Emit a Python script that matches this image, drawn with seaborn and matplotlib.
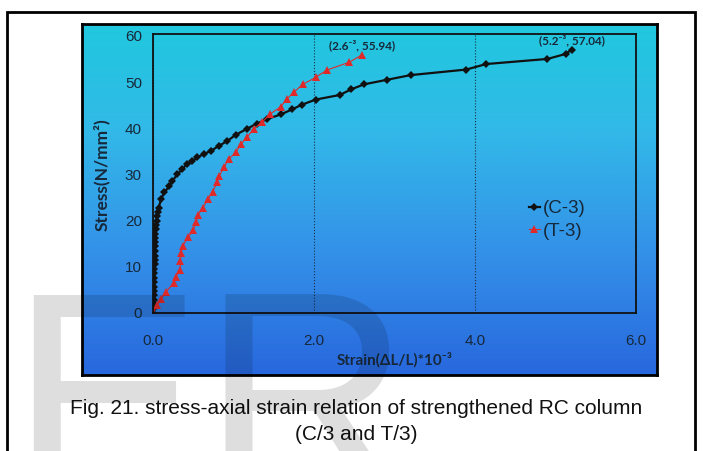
import matplotlib
matplotlib.use("Agg")
import matplotlib.pyplot as plt
from matplotlib.patches import Rectangle
import numpy as np
import pandas as pd
import seaborn as sns

# ─────────────────────────────────────────────
#  DATA
# ─────────────────────────────────────────────
c3_strain = [0, 0.005, 0.008, 0.01, 0.012, 0.013, 0.014, 0.015, 0.016, 0.017,
             0.018, 0.019, 0.02, 0.021, 0.022, 0.023, 0.025, 0.027, 0.03, 0.033,
             0.037, 0.045, 0.05, 0.06, 0.07, 0.1, 0.14, 0.2, 0.24, 0.3,
             0.36, 0.42, 0.48, 0.55, 0.63, 0.72, 0.82, 0.92, 1.03, 1.17,
             1.29, 1.42, 1.59, 1.73, 1.85, 2.02, 2.32, 2.46, 2.62, 2.91,
             3.2, 3.89, 4.14, 4.9, 5.13, 5.2]
c3_stress = [0, 0.9, 1.9, 2.8, 3.8, 4.8, 5.7, 6.7, 7.6, 8.6,
             9.6, 10.5, 11.5, 12.4, 13.4, 14.4, 15.3, 16.3, 17.2, 18.2,
             19.1, 20.0, 20.9, 21.9, 22.8, 24.6, 26.1, 27.4, 28.5, 30.0,
             31.1, 32.2, 32.8, 33.7, 34.4, 35.1, 36.2, 37.2, 38.6, 39.9,
             41.0, 42.0, 43.0, 44.1, 45.1, 46.2, 47.2, 48.4, 49.5, 50.5,
             51.5, 52.7, 53.9, 55.0, 56.1, 57.04]

t3_strain = [0, 0.05, 0.1, 0.16, 0.26, 0.28, 0.34, 0.34, 0.35, 0.37,
             0.44, 0.5, 0.54, 0.56, 0.62, 0.68, 0.74, 0.8, 0.82, 0.88,
             0.94, 1.03, 1.09, 1.17, 1.25, 1.36, 1.45, 1.59, 1.66, 1.75,
             1.86, 2.02, 2.16, 2.44, 2.6]
t3_stress = [0, 1.7, 3.0, 4.6, 6.5, 7.8, 9.3, 11.3, 13.0, 14.6,
             16.5, 18.0, 19.8, 21.3, 22.8, 24.6, 26.3, 28.3, 29.6, 31.5,
             33.3, 34.8, 36.5, 38.1, 39.8, 41.4, 43.0, 44.7, 46.3, 47.8,
             49.5, 51.0, 52.6, 54.3, 55.94]

series_labels = ["(C-3)", "(T-3)"]
x_ticks = [0.0, 2.0, 4.0, 6.0]
y_ticks = [0, 10, 20, 30, 40, 50, 60]
end_labels = ["(5.2\u207b\u00b3, 57.04)", "(2.6\u207b\u00b3, 55.94)"]
caption_lines = ["Fig. 21. stress-axial strain relation of strengthened RC column",
                 "(C/3 and T/3)"]
# ─────────────────────────────────────────────

W, H = 703, 451
INK = "#17283a"
RED = "#e02a2a"


def box(x0, y0, x1, y1):
    # pixel box (top-left origin) -> figure fraction [l, b, w, h]
    return [x0 / W, 1 - y1 / H, (x1 - x0) / W, (y1 - y0) / H]


fig = plt.figure(figsize=(W / 100, H / 100), dpi=100)

# ── scanned-picture background ──────────
bg = fig.add_axes(box(82, 24, 657, 375))
rows = np.linspace(0, 1, 200)
stops = [0, 0.3, 0.65, 1.0]
cols = np.array([[32, 200, 222], [50, 185, 232], [52, 145, 232], [40, 104, 222]]) / 255
grad = np.stack([np.interp(rows, stops, cols[:, k]) for k in range(3)], axis=-1)
bg.imshow(grad[:, None, :], aspect="auto", extent=[0, 1, 0, 1])
bg.set_xticks([])
bg.set_yticks([])
for s in bg.spines.values():
    s.set_linewidth(2)
    s.set_color("black")

# ── chart ───────────────────────────────
ax = fig.add_axes(box(153, 34, 636, 313))
ax.patch.set_alpha(0)

df_c = pd.DataFrame({"strain": c3_strain, "stress": c3_stress})
df_t = pd.DataFrame({"strain": t3_strain, "stress": t3_stress})

sns.lineplot(data=df_c, x="strain", y="stress", ax=ax, sort=False, estimator=None,
             color="#111111", lw=1.6, marker="D", markersize=4.5,
             markeredgewidth=0, label=series_labels[0])
sns.lineplot(data=df_t, x="strain", y="stress", ax=ax, sort=False, estimator=None,
             color=RED, lw=0.8, marker="^", markersize=5.5,
             markeredgewidth=0, label=series_labels[1])

ax.set_xlim(0, 6)
ax.set_ylim(0, 60.4)
ax.set_xticks(x_ticks)
ax.set_xticklabels([f"{v:.1f}" for v in x_ticks])
ax.set_yticks(y_ticks)
ax.tick_params(length=0, labelsize=11, labelcolor=INK)
ax.tick_params(axis="x", pad=15)
ax.tick_params(axis="y", pad=8)
for lab in ax.get_xticklabels() + ax.get_yticklabels():
    lab.set_family("Liberation Sans")

ax.grid(axis="x", ls=":", lw=0.8, color="#1a2f45")
ax.set_axisbelow(True)
for s in ax.spines.values():
    s.set_linewidth(1.3)
    s.set_color("#111111")

ax.set_xlabel("Strain(\u0394L/L)*10\u207b\u00b3", fontsize=11, fontweight="bold",
              color=INK, family=["Lato", "DejaVu Sans"])
ax.set_ylabel("Stress(N/mm\u00b2)", fontsize=12.5, fontweight="bold",
              color=INK, family=["Lato", "DejaVu Sans"])
ax.xaxis.set_label_coords(0.50, -0.14)
ax.yaxis.set_label_coords(-0.089, 0.495)

# end-point notes
for xs, ys, txt in [(c3_strain, c3_stress, end_labels[0]),
                    (t3_strain, t3_stress, end_labels[1])]:
    ax.annotate(txt, (xs[-1], ys[-1]), xytext=(0, 9), textcoords="offset pixels",
                ha="center", va="center", fontsize=8.5, fontweight="bold",
                color=INK, family=["Lato", "DejaVu Sans"])

leg = ax.legend(loc="center", bbox_to_anchor=(0.837, 0.333), frameon=False,
                handlelength=0.6, handletextpad=0.15, labelspacing=0.3,
                prop={"family": "Liberation Sans", "size": 13.5})
for t in leg.get_texts():
    t.set_color(INK)

# ── page furniture ──────────────────────
fig.text(356 / W, 1 - 408 / H, caption_lines[0], ha="center", va="center",
         fontsize=15, family="Liberation Sans", color="#111111")
fig.text(356 / W, 1 - 435 / H, caption_lines[1], ha="center", va="center",
         fontsize=15, family="Liberation Sans", color="#111111")

# faint journal watermark
fig.text(9 / W, 1 - 494 / H, "ER", fontsize=208, family="Liberation Sans",
         color="black", alpha=0.13, ha="left", va="baseline", zorder=10)

fig.add_artist(Rectangle((7 / W, -0.05), (695 - 7) / W, 1 - 12 / H + 0.05,
                         transform=fig.transFigure, fill=False, lw=2,
                         edgecolor="black", zorder=11))

plt.savefig("out.png", dpi=100)
